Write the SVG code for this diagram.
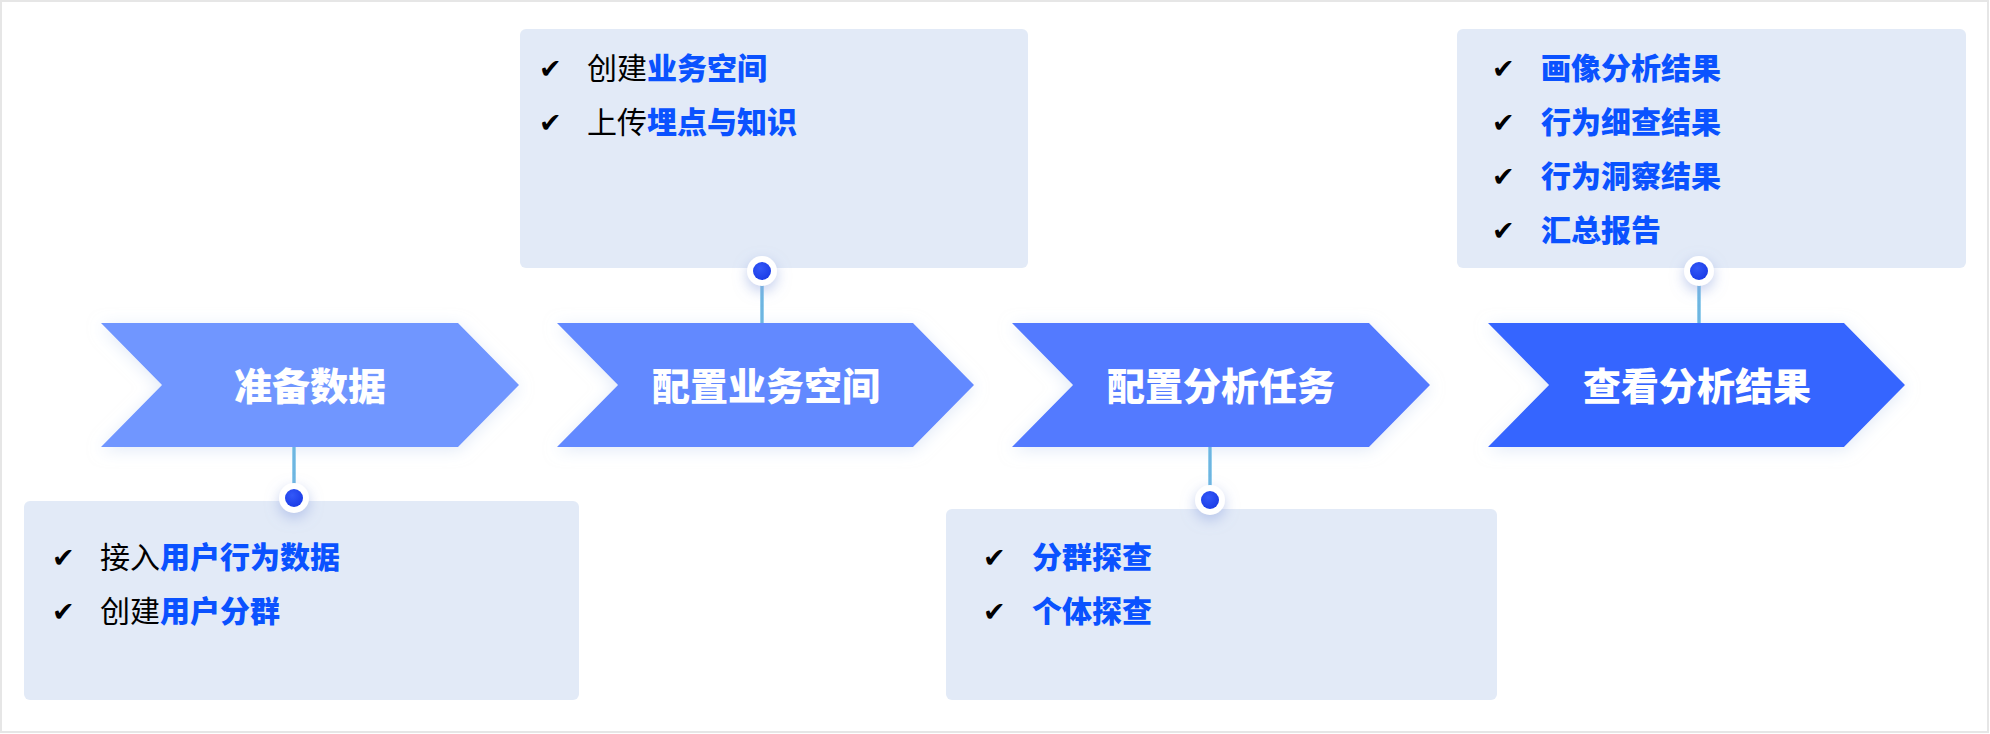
<svg xmlns="http://www.w3.org/2000/svg" width="1990" height="734" viewBox="0 0 1990 734">
  <defs>
    <style>
      .frame { fill: #ffffff; stroke: #e6e6e6; stroke-width: 2; }
      .box { fill: #e2eaf7; }
      .chev-text { font-family: "Noto Sans CJK SC", "Noto Sans", sans-serif; font-size: 38px; font-weight: 900; fill: #ffffff; text-anchor: middle; }
      .item { font-family: "Noto Sans CJK SC", "Noto Sans", sans-serif; font-size: 30px; fill: #000000; }
      .hl { fill: #0a52ff; font-weight: 900; }
      .check { font-family: "DejaVu Sans", sans-serif; font-size: 27px; fill: #000000; }
      .ring { fill: #ffffff; }
      .link { fill: url(#lineGrad); }
    </style>
    <filter id="chevGlow" x="-10%" y="-30%" width="120%" height="160%">
      <feDropShadow dx="0" dy="3" stdDeviation="8" flood-color="#c9d9f2" flood-opacity="0.55"/>
    </filter>
    <filter id="dotGlow" x="-150%" y="-150%" width="400%" height="400%">
      <feDropShadow dx="0" dy="5" stdDeviation="7" flood-color="#8ea3df" flood-opacity="0.55"/>
    </filter>
    <linearGradient id="lineGrad" x1="0" y1="0" x2="1" y2="0">
      <stop offset="0" stop-color="#a9daf2"/>
      <stop offset="0.5" stop-color="#5aa9db"/>
      <stop offset="1" stop-color="#a9daf2"/>
    </linearGradient>
    <radialGradient id="dotGrad" cx="0.4" cy="0.35" r="0.7">
      <stop offset="0" stop-color="#3358f8"/>
      <stop offset="1" stop-color="#1a3be6"/>
    </radialGradient>
  </defs>

  <rect class="frame" x="1" y="1" width="1987" height="731"/>

  <!-- Detail boxes -->
  <g id="box-prepare">
    <rect class="box" x="24" y="501" width="555" height="199" rx="6"/>
    <text class="check" x="52" y="567">✔</text>
    <text class="item" x="100" y="568">接入<tspan class="hl">用户行为数据</tspan></text>
    <text class="check" x="52" y="621">✔</text>
    <text class="item" x="100" y="622">创建<tspan class="hl">用户分群</tspan></text>
  </g>

  <g id="box-space">
    <rect class="box" x="520" y="29" width="508" height="239" rx="6"/>
    <text class="check" x="539" y="78">✔</text>
    <text class="item" x="587" y="79">创建<tspan class="hl">业务空间</tspan></text>
    <text class="check" x="539" y="132">✔</text>
    <text class="item" x="587" y="133">上传<tspan class="hl">埋点与知识</tspan></text>
  </g>

  <g id="box-task">
    <rect class="box" x="946" y="509" width="551" height="191" rx="6"/>
    <text class="check" x="983" y="567">✔</text>
    <text class="item hl" x="1032" y="568">分群探查</text>
    <text class="check" x="983" y="621">✔</text>
    <text class="item hl" x="1032" y="622">个体探查</text>
  </g>

  <g id="box-result">
    <rect class="box" x="1457" y="29" width="509" height="239" rx="6"/>
    <text class="check" x="1492" y="78">✔</text>
    <text class="item hl" x="1541" y="79">画像分析结果</text>
    <text class="check" x="1492" y="132">✔</text>
    <text class="item hl" x="1541" y="133">行为细查结果</text>
    <text class="check" x="1492" y="186">✔</text>
    <text class="item hl" x="1541" y="187">行为洞察结果</text>
    <text class="check" x="1492" y="240">✔</text>
    <text class="item hl" x="1541" y="241">汇总报告</text>
  </g>

  <!-- Process chevrons -->
  <g id="step-1">
    <polygon filter="url(#chevGlow)" fill="#7096ff" points="101,323 458,323 519,385 458,447 101,447 162,385"/>
    <text class="chev-text" x="310" y="400">准备数据</text>
  </g>
  <g id="step-2">
    <polygon filter="url(#chevGlow)" fill="#6289ff" points="557,323 913,323 974,385 913,447 557,447 618,385"/>
    <text class="chev-text" x="766" y="400">配置业务空间</text>
  </g>
  <g id="step-3">
    <polygon filter="url(#chevGlow)" fill="#527aff" points="1012,323 1369,323 1430,385 1369,447 1012,447 1073,385"/>
    <text class="chev-text" x="1221" y="400">配置分析任务</text>
  </g>
  <g id="step-4">
    <polygon filter="url(#chevGlow)" fill="#3465ff" points="1488,323 1844,323 1905,385 1844,447 1488,447 1549,385"/>
    <text class="chev-text" x="1697" y="400">查看分析结果</text>
  </g>

  <!-- Connectors -->
  <g id="connectors">
    <rect class="link" x="292" y="447" width="4" height="45"/>
    <circle class="ring" filter="url(#dotGlow)" cx="294" cy="498" r="15"/>
    <circle fill="url(#dotGrad)" cx="294" cy="498" r="9"/>

    <rect class="link" x="760" y="278" width="4" height="45"/>
    <circle class="ring" filter="url(#dotGlow)" cx="762" cy="271" r="15"/>
    <circle fill="url(#dotGrad)" cx="762" cy="271" r="9"/>

    <rect class="link" x="1208" y="447" width="4" height="46"/>
    <circle class="ring" filter="url(#dotGlow)" cx="1210" cy="500" r="15"/>
    <circle fill="url(#dotGrad)" cx="1210" cy="500" r="9"/>

    <rect class="link" x="1697" y="278" width="4" height="45"/>
    <circle class="ring" filter="url(#dotGlow)" cx="1699" cy="271" r="15"/>
    <circle fill="url(#dotGrad)" cx="1699" cy="271" r="9"/>
  </g>
</svg>
